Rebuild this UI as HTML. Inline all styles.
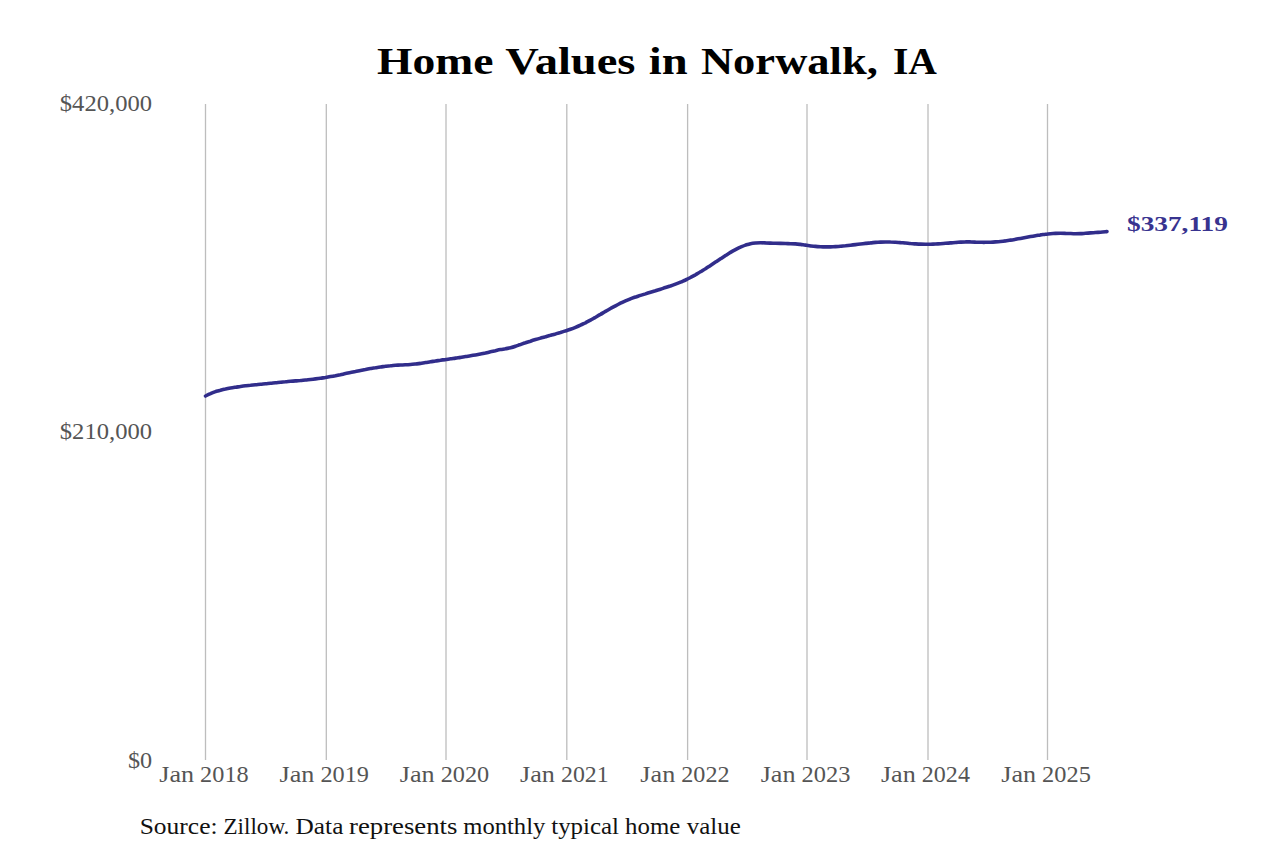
<!DOCTYPE html>
<html><head><meta charset="utf-8"><style>
html,body{margin:0;padding:0;background:#fff;width:1280px;height:853px;overflow:hidden}
svg{display:block}
text{font-family:"Liberation Serif",serif}
</style></head><body>
<svg width="1280" height="853" viewBox="0 0 1280 853">
<rect width="1280" height="853" fill="#fff"/>
<line x1="205.5" y1="104" x2="205.5" y2="760" stroke="#bdbdbd" stroke-width="1.3"/>
<line x1="326.3" y1="104" x2="326.3" y2="760" stroke="#bdbdbd" stroke-width="1.3"/>
<line x1="446.0" y1="104" x2="446.0" y2="760" stroke="#bdbdbd" stroke-width="1.3"/>
<line x1="566.8" y1="104" x2="566.8" y2="760" stroke="#bdbdbd" stroke-width="1.3"/>
<line x1="687.6" y1="104" x2="687.6" y2="760" stroke="#bdbdbd" stroke-width="1.3"/>
<line x1="807.0" y1="104" x2="807.0" y2="760" stroke="#bdbdbd" stroke-width="1.3"/>
<line x1="928.0" y1="104" x2="928.0" y2="760" stroke="#bdbdbd" stroke-width="1.3"/>
<line x1="1047.5" y1="104" x2="1047.5" y2="760" stroke="#bdbdbd" stroke-width="1.3"/>
<text x="377.00" y="73.75" font-weight="bold" font-size="38.5" fill="#000" textLength="116.41" lengthAdjust="spacingAndGlyphs">Home</text>
<text x="505.33" y="73.75" font-weight="bold" font-size="38.5" fill="#000" textLength="130.08" lengthAdjust="spacingAndGlyphs">Values</text>
<text x="648.78" y="73.75" font-weight="bold" font-size="38.5" fill="#000" textLength="38.87" lengthAdjust="spacingAndGlyphs">in</text>
<text x="700.98" y="73.75" font-weight="bold" font-size="38.5" fill="#000" textLength="176.83" lengthAdjust="spacingAndGlyphs">Norwalk,</text>
<text x="892.95" y="73.75" font-weight="bold" font-size="38.5" fill="#000" textLength="44.07" lengthAdjust="spacingAndGlyphs">IA</text>
<text x="139.70" y="834.00" font-size="22.1" fill="#111" textLength="77.84" lengthAdjust="spacingAndGlyphs">Source:</text>
<text x="223.48" y="834.00" font-size="22.1" fill="#111" textLength="65.92" lengthAdjust="spacingAndGlyphs">Zillow.</text>
<text x="295.62" y="834.00" font-size="22.1" fill="#111" textLength="47.76" lengthAdjust="spacingAndGlyphs">Data</text>
<text x="349.03" y="834.00" font-size="22.1" fill="#111" textLength="108.45" lengthAdjust="spacingAndGlyphs">represents</text>
<text x="463.24" y="834.00" font-size="22.1" fill="#111" textLength="82.06" lengthAdjust="spacingAndGlyphs">monthly</text>
<text x="551.21" y="834.00" font-size="22.1" fill="#111" textLength="67.83" lengthAdjust="spacingAndGlyphs">typical</text>
<text x="625.07" y="834.00" font-size="22.1" fill="#111" textLength="55.19" lengthAdjust="spacingAndGlyphs">home</text>
<text x="686.86" y="834.00" font-size="22.1" fill="#111" textLength="53.87" lengthAdjust="spacingAndGlyphs">value</text>
<text x="59.80" y="110.70" font-size="22.2" fill="#555" textLength="92.25" lengthAdjust="spacingAndGlyphs">$420,000</text>
<text x="59.80" y="438.90" font-size="22.2" fill="#555" textLength="92.25" lengthAdjust="spacingAndGlyphs">$210,000</text>
<text x="128.00" y="767.90" font-size="22.2" fill="#555" textLength="24.20" lengthAdjust="spacingAndGlyphs">$0</text>
<text x="1127.00" y="230.80" font-weight="bold" font-size="21.5" fill="#38338f" textLength="100.84" lengthAdjust="spacingAndGlyphs">$337,119</text>
<text x="159.23" y="781.70" font-size="22.2" fill="#555" textLength="34.87" lengthAdjust="spacingAndGlyphs">Jan</text>
<text x="200.13" y="781.70" font-size="22.2" fill="#555" textLength="48.53" lengthAdjust="spacingAndGlyphs">2018</text>
<text x="279.52" y="781.70" font-size="22.2" fill="#555" textLength="34.87" lengthAdjust="spacingAndGlyphs">Jan</text>
<text x="320.42" y="781.70" font-size="22.2" fill="#555" textLength="48.53" lengthAdjust="spacingAndGlyphs">2019</text>
<text x="399.80" y="781.70" font-size="22.2" fill="#555" textLength="34.87" lengthAdjust="spacingAndGlyphs">Jan</text>
<text x="440.70" y="781.70" font-size="22.2" fill="#555" textLength="48.53" lengthAdjust="spacingAndGlyphs">2020</text>
<text x="520.09" y="781.70" font-size="22.2" fill="#555" textLength="34.87" lengthAdjust="spacingAndGlyphs">Jan</text>
<text x="560.99" y="781.70" font-size="22.2" fill="#555" textLength="47.67" lengthAdjust="spacingAndGlyphs">2021</text>
<text x="640.37" y="781.70" font-size="22.2" fill="#555" textLength="34.87" lengthAdjust="spacingAndGlyphs">Jan</text>
<text x="681.28" y="781.70" font-size="22.2" fill="#555" textLength="48.30" lengthAdjust="spacingAndGlyphs">2022</text>
<text x="760.66" y="781.70" font-size="22.2" fill="#555" textLength="34.87" lengthAdjust="spacingAndGlyphs">Jan</text>
<text x="801.56" y="781.70" font-size="22.2" fill="#555" textLength="48.84" lengthAdjust="spacingAndGlyphs">2023</text>
<text x="880.95" y="781.70" font-size="22.2" fill="#555" textLength="34.87" lengthAdjust="spacingAndGlyphs">Jan</text>
<text x="921.85" y="781.70" font-size="22.2" fill="#555" textLength="48.06" lengthAdjust="spacingAndGlyphs">2024</text>
<text x="1001.23" y="781.70" font-size="22.2" fill="#555" textLength="34.87" lengthAdjust="spacingAndGlyphs">Jan</text>
<text x="1042.13" y="781.70" font-size="22.2" fill="#555" textLength="48.69" lengthAdjust="spacingAndGlyphs">2025</text>
<path d="M205.5,396.0 C206.3,395.6 208.8,394.3 210.5,393.6 C212.2,392.8 213.8,392.2 215.5,391.6 C217.2,391.1 218.8,390.6 220.5,390.2 C222.2,389.7 223.8,389.3 225.5,389.0 C227.2,388.6 228.8,388.3 230.5,388.0 C232.2,387.8 233.8,387.5 235.5,387.2 C237.2,387.0 238.8,386.7 240.5,386.5 C242.2,386.3 243.8,386.1 245.5,385.8 C247.2,385.6 248.8,385.4 250.5,385.3 C252.2,385.1 253.8,384.9 255.5,384.7 C257.2,384.5 258.8,384.4 260.5,384.2 C262.2,384.0 263.8,383.9 265.5,383.7 C267.2,383.5 268.8,383.4 270.5,383.2 C272.2,383.0 273.8,382.9 275.5,382.7 C277.2,382.5 278.8,382.4 280.5,382.2 C282.2,382.1 283.8,381.9 285.5,381.8 C287.2,381.6 288.8,381.5 290.5,381.3 C292.2,381.2 293.8,381.0 295.5,380.9 C297.2,380.8 298.8,380.6 300.5,380.5 C302.2,380.3 303.8,380.2 305.5,380.0 C307.2,379.8 308.8,379.7 310.5,379.5 C312.2,379.3 313.8,379.1 315.5,378.9 C317.2,378.7 318.8,378.5 320.5,378.2 C322.2,378.0 323.8,377.7 325.5,377.5 C327.2,377.2 328.8,376.9 330.5,376.6 C332.2,376.3 333.8,376.0 335.5,375.7 C337.2,375.3 338.8,375.0 340.5,374.7 C342.2,374.3 343.8,374.0 345.5,373.6 C347.2,373.3 348.8,372.9 350.5,372.6 C352.2,372.3 353.8,371.9 355.5,371.6 C357.2,371.2 358.8,370.9 360.5,370.5 C362.2,370.2 363.8,369.9 365.5,369.6 C367.2,369.2 368.8,368.9 370.5,368.6 C372.2,368.3 373.8,368.0 375.5,367.8 C377.2,367.5 378.8,367.2 380.5,367.0 C382.2,366.8 383.8,366.5 385.5,366.3 C387.2,366.1 388.8,365.9 390.5,365.8 C392.2,365.6 393.8,365.5 395.5,365.3 C397.2,365.2 398.8,365.1 400.5,365.0 C402.2,365.0 403.8,364.9 405.5,364.8 C407.2,364.8 408.8,364.7 410.5,364.5 C412.2,364.4 413.8,364.2 415.5,364.0 C417.2,363.9 418.8,363.6 420.5,363.4 C422.2,363.1 423.8,362.9 425.5,362.6 C427.2,362.3 428.8,362.1 430.5,361.8 C432.2,361.5 433.8,361.3 435.5,361.0 C437.2,360.8 438.8,360.5 440.5,360.3 C442.2,360.0 443.8,359.8 445.5,359.6 C447.2,359.3 448.8,359.1 450.5,358.8 C452.2,358.6 453.8,358.3 455.5,358.1 C457.2,357.9 458.8,357.6 460.5,357.4 C462.2,357.1 463.8,356.9 465.5,356.6 C467.2,356.3 468.8,356.1 470.5,355.8 C472.2,355.5 473.8,355.2 475.5,354.9 C477.2,354.6 478.8,354.3 480.5,354.0 C482.2,353.7 483.8,353.3 485.5,353.0 C487.2,352.6 488.8,352.2 490.5,351.8 C492.2,351.5 493.8,351.0 495.5,350.7 C497.2,350.3 498.8,349.9 500.5,349.6 C502.2,349.3 503.8,349.1 505.5,348.8 C507.2,348.4 508.8,348.2 510.5,347.7 C512.2,347.3 513.8,346.8 515.5,346.2 C517.2,345.7 518.8,345.0 520.5,344.5 C522.2,343.9 523.8,343.3 525.5,342.8 C527.2,342.2 528.8,341.7 530.5,341.2 C532.2,340.6 533.8,340.1 535.5,339.6 C537.2,339.1 538.8,338.6 540.5,338.1 C542.2,337.6 543.8,337.1 545.5,336.7 C547.2,336.2 548.8,335.7 550.5,335.3 C552.2,334.8 553.8,334.3 555.5,333.9 C557.2,333.4 558.8,332.9 560.5,332.5 C562.2,332.0 563.8,331.5 565.5,330.9 C567.2,330.4 568.8,329.9 570.5,329.3 C572.2,328.7 573.8,328.1 575.5,327.4 C577.2,326.7 578.8,326.0 580.5,325.2 C582.2,324.5 583.8,323.6 585.5,322.8 C587.2,321.9 588.8,321.0 590.5,320.1 C592.2,319.2 593.8,318.2 595.5,317.3 C597.2,316.3 598.8,315.3 600.5,314.4 C602.2,313.4 603.8,312.4 605.5,311.4 C607.2,310.4 608.8,309.5 610.5,308.5 C612.2,307.6 613.8,306.7 615.5,305.8 C617.2,304.9 618.8,304.1 620.5,303.2 C622.2,302.4 623.8,301.6 625.5,300.9 C627.2,300.2 628.8,299.5 630.5,298.8 C632.2,298.2 633.8,297.6 635.5,297.1 C637.2,296.5 638.8,296.0 640.5,295.4 C642.2,294.9 643.8,294.4 645.5,293.9 C647.2,293.3 648.8,292.8 650.5,292.3 C652.2,291.8 653.8,291.3 655.5,290.8 C657.2,290.2 658.8,289.7 660.5,289.2 C662.2,288.7 663.8,288.1 665.5,287.6 C667.2,287.1 668.8,286.5 670.5,285.9 C672.2,285.4 673.8,284.8 675.5,284.1 C677.2,283.5 678.8,282.9 680.5,282.2 C682.2,281.5 683.8,280.7 685.5,280.0 C687.2,279.2 688.8,278.4 690.5,277.5 C692.2,276.6 693.8,275.7 695.5,274.8 C697.2,273.8 698.8,272.8 700.5,271.8 C702.2,270.8 703.8,269.7 705.5,268.7 C707.2,267.6 708.8,266.5 710.5,265.4 C712.2,264.3 713.8,263.2 715.5,262.1 C717.2,261.0 718.8,259.9 720.5,258.8 C722.2,257.7 723.8,256.6 725.5,255.5 C727.2,254.5 728.8,253.4 730.5,252.4 C732.2,251.4 733.8,250.5 735.5,249.6 C737.2,248.7 738.8,247.8 740.5,247.1 C742.2,246.4 743.8,245.7 745.5,245.1 C747.2,244.6 748.8,244.1 750.5,243.7 C752.2,243.4 753.8,243.2 755.5,243.0 C757.2,242.9 758.8,242.8 760.5,242.8 C762.2,242.8 763.8,242.8 765.5,242.9 C767.2,242.9 768.8,243.0 770.5,243.1 C772.2,243.2 773.8,243.2 775.5,243.3 C777.2,243.4 778.8,243.4 780.5,243.4 C782.2,243.5 783.8,243.5 785.5,243.5 C787.2,243.6 788.8,243.6 790.5,243.7 C792.2,243.7 793.8,243.8 795.5,243.9 C797.2,244.0 798.8,244.2 800.5,244.4 C802.2,244.6 803.8,244.9 805.5,245.1 C807.2,245.4 808.8,245.6 810.5,245.9 C812.2,246.1 813.8,246.3 815.5,246.4 C817.2,246.6 818.8,246.7 820.5,246.8 C822.2,246.8 823.8,246.9 825.5,246.9 C827.2,246.9 828.8,246.9 830.5,246.9 C832.2,246.8 833.8,246.7 835.5,246.6 C837.2,246.5 838.8,246.4 840.5,246.2 C842.2,246.1 843.8,245.9 845.5,245.8 C847.2,245.6 848.8,245.4 850.5,245.2 C852.2,245.0 853.8,244.8 855.5,244.6 C857.2,244.4 858.8,244.2 860.5,244.0 C862.2,243.8 863.8,243.6 865.5,243.4 C867.2,243.2 868.8,243.0 870.5,242.9 C872.2,242.7 873.8,242.6 875.5,242.4 C877.2,242.3 878.8,242.2 880.5,242.1 C882.2,242.0 883.8,242.0 885.5,242.0 C887.2,241.9 888.8,241.9 890.5,242.0 C892.2,242.0 893.8,242.1 895.5,242.2 C897.2,242.3 898.8,242.4 900.5,242.6 C902.2,242.7 903.8,242.9 905.5,243.0 C907.2,243.2 908.8,243.3 910.5,243.5 C912.2,243.6 913.8,243.8 915.5,243.9 C917.2,244.0 918.8,244.1 920.5,244.1 C922.2,244.2 923.8,244.2 925.5,244.2 C927.2,244.3 928.8,244.2 930.5,244.2 C932.2,244.1 933.8,244.1 935.5,244.0 C937.2,243.9 938.8,243.8 940.5,243.7 C942.2,243.6 943.8,243.5 945.5,243.3 C947.2,243.2 948.8,243.1 950.5,242.9 C952.2,242.8 953.8,242.6 955.5,242.5 C957.2,242.4 958.8,242.2 960.5,242.1 C962.2,242.0 963.8,241.9 965.5,241.9 C967.2,241.8 968.8,241.8 970.5,241.9 C972.2,241.9 973.8,242.0 975.5,242.1 C977.2,242.1 978.8,242.2 980.5,242.3 C982.2,242.3 983.8,242.4 985.5,242.3 C987.2,242.3 988.8,242.3 990.5,242.2 C992.2,242.2 993.8,242.1 995.5,241.9 C997.2,241.8 998.8,241.7 1000.5,241.5 C1002.2,241.3 1003.8,241.1 1005.5,240.9 C1007.2,240.6 1008.8,240.4 1010.5,240.1 C1012.2,239.9 1013.8,239.6 1015.5,239.3 C1017.2,239.0 1018.8,238.7 1020.5,238.4 C1022.2,238.1 1023.8,237.8 1025.5,237.5 C1027.2,237.2 1028.8,236.9 1030.5,236.6 C1032.2,236.3 1033.8,236.0 1035.5,235.7 C1037.2,235.4 1038.8,235.2 1040.5,234.9 C1042.2,234.7 1043.8,234.4 1045.5,234.2 C1047.2,234.0 1048.8,233.9 1050.5,233.7 C1052.2,233.6 1053.8,233.5 1055.5,233.4 C1057.2,233.3 1058.8,233.3 1060.5,233.3 C1062.2,233.3 1063.8,233.3 1065.5,233.4 C1067.2,233.4 1068.8,233.5 1070.5,233.5 C1072.2,233.6 1073.8,233.7 1075.5,233.7 C1077.2,233.7 1078.8,233.7 1080.5,233.6 C1082.2,233.6 1083.8,233.4 1085.5,233.3 C1087.2,233.2 1088.8,233.0 1090.5,232.9 C1092.2,232.8 1093.8,232.7 1095.5,232.5 C1097.2,232.4 1098.8,232.3 1100.5,232.2 C1102.2,232.1 1104.4,231.9 1105.5,231.8 C1106.6,231.7 1106.8,231.6 1107.0,231.6" fill="none" stroke="#312d8b" stroke-width="3.6" stroke-linecap="round" stroke-linejoin="round"/>
</svg>
</body></html>
